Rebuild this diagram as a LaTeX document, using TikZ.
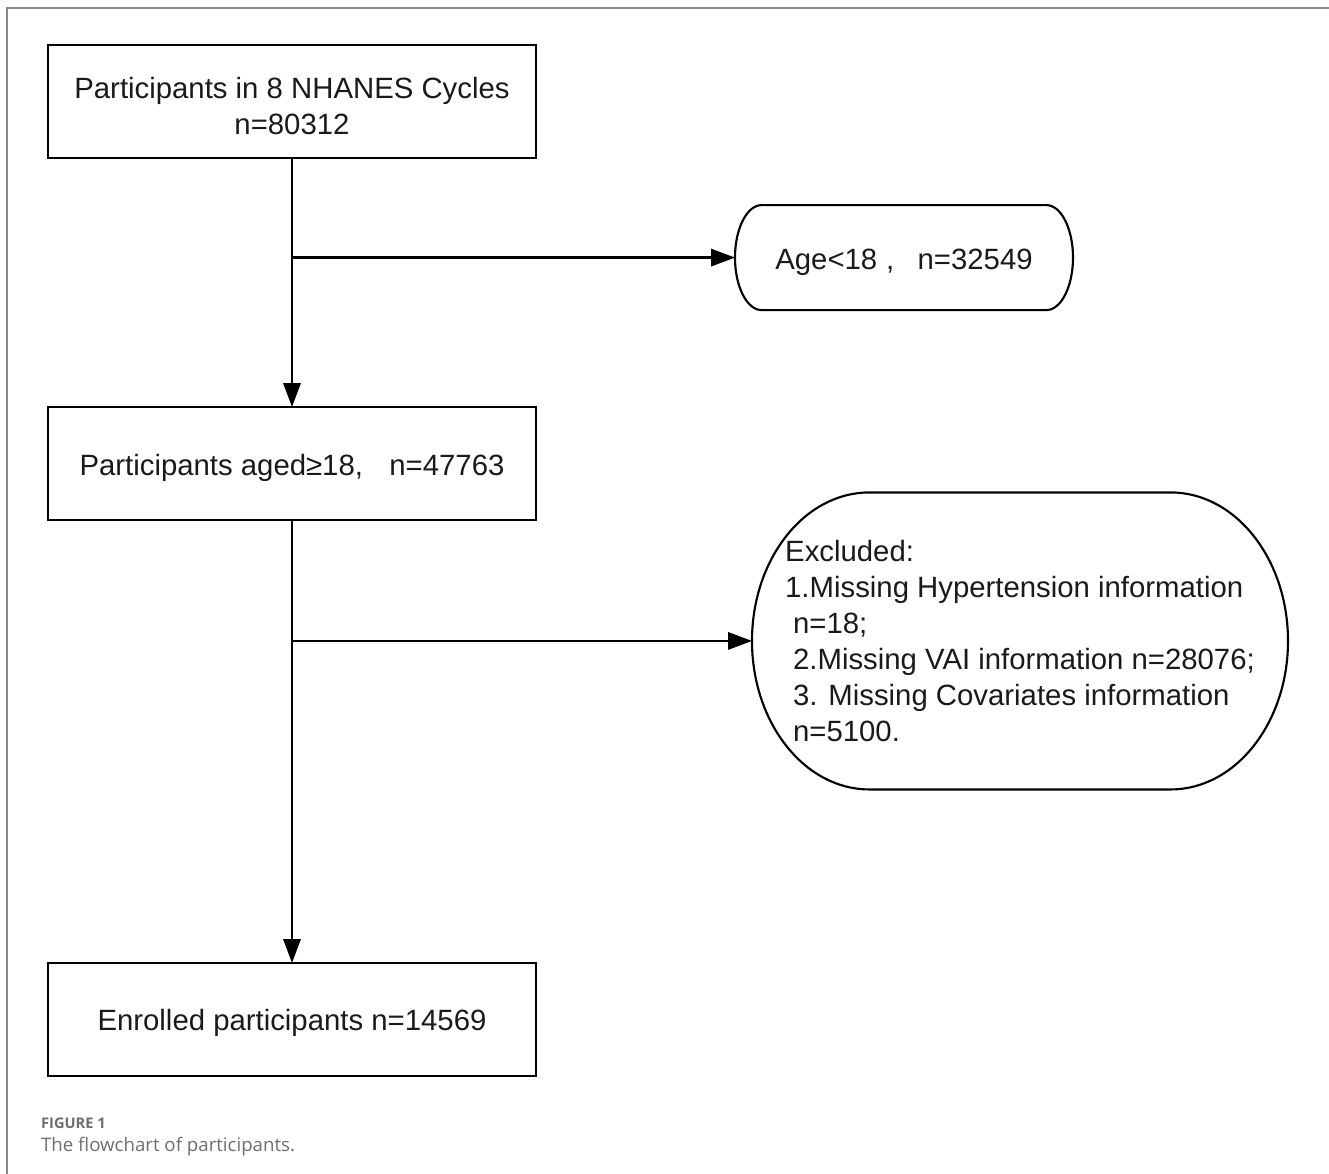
\documentclass[tikz,border=0pt]{standalone}
\usepackage{fontspec}
\setmainfont{Liberation Sans}
\newfontfamily\captionfont{Open Sans}
\usepackage{tikz}
\usetikzlibrary{arrows.meta,calc,positioning}
\definecolor{framegray}{HTML}{8A8A8A}
\definecolor{captiongray}{HTML}{6E6E6E}
\definecolor{textblack}{HTML}{1A1A1A}
\newcommand{\boxstrut}[1]{\rule{0pt}{#1}}

\begin{document}
\begin{tikzpicture}[x=0.75pt,y=-0.75pt,>={Triangle[length=18pt,width=13pt]},line width=1.7pt,align=center,
		stepbox/.style={draw,line width=2pt,outer sep=0pt,minimum width=366pt,minimum height=84.75pt,font=\fontsize{22}{27}\selectfont,text=textblack},
		exclbox/.style={outer sep=0pt,inner sep=0pt,font=\fontsize{22}{27}\selectfont,text=textblack},
		excltext/.style={align=left,inner sep=0pt,font=\fontsize{22}{27}\selectfont,text=textblack},
		captext/.style={anchor=base west,inner sep=0pt,text=captiongray}]
			\useasboundingbox (0,0) rectangle (1329,1174);
			\draw[framegray,line width=1.1pt] (7,1174) |- (1329,8);
			\node[stepbox] (p_all) at (292,101.5) {\boxstrut{22pt}Participants in 8 NHANES Cycles\\n=80312};
			\node[stepbox] [below=186.75pt of p_all] (p_adult) {\boxstrut{23pt}Participants aged≥18,\hspace{0.9em}n=47763};
			\node[stepbox] [below=332.25pt of p_adult] (p_final) {\boxstrut{21pt}Enrolled participants n=14569};
			\coordinate (b_age) at ($(p_all.south)!0.4!(p_adult.north)$);
			\coordinate (b_miss) at ($(p_adult.south)!0.273!(p_final.north)$);
			\node[exclbox,minimum width=253.5pt,minimum height=78.75pt] [right=332.25pt of b_age] (ex_age) {\boxstrut{23pt}Age<18\hspace{0.3em},\hspace{0.8em}n=32549};
			\node[exclbox,minimum width=402pt,minimum height=222.75pt,
				label={[excltext]center:{Excluded:\\1.Missing Hypertension information\\\hspace*{0.27em}n=18;\\\hspace*{0.27em}2.Missing VAI information n=28076;\\\hspace*{0.27em}3. Missing Covariates information\\\hspace*{0.27em}n=5100.}}]
				[right=345pt of b_miss] (ex_miss) {};
			% outlines with half-ellipse ends
			\foreach \shp/\rx/\ry in {ex_age/20pt/39.375pt,ex_miss/88pt/111.375pt}
				\draw[line width=1.6pt] ($(\shp.north west)+(\rx,0)$) -- ($(\shp.north east)-(\rx,0)$)
					arc[start angle=90,end angle=-90,x radius=\rx,y radius=\ry]
					-- ($(\shp.south west)+(\rx,0)$)
					arc[start angle=270,end angle=90,x radius=\rx,y radius=\ry] -- cycle;
			\path[->]
				(p_all) edge (p_adult)
				(p_adult) edge (p_final)
				(b_age) edge (ex_age)
				(b_miss) edge (ex_miss);
			\node[captext,font=\captionfont\bfseries\fontsize{11}{13}\selectfont] (fig_tag) at (40,1128) {FIGURE 1};
			\node[captext,font=\captionfont\fontsize{14}{17}\selectfont] (fig_cap) at (40,1151) {The flowchart of participants.};
		\end{tikzpicture}
\end{document}
